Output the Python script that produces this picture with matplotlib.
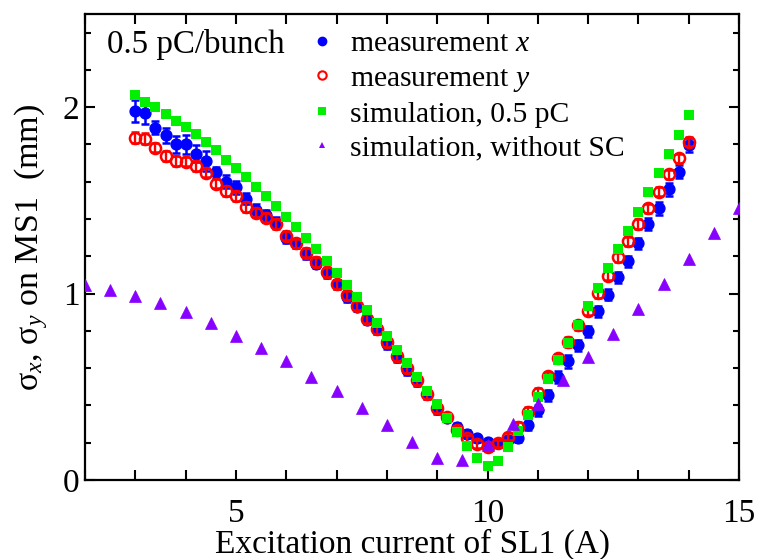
import matplotlib
matplotlib.use("Agg")
import matplotlib.pyplot as plt
from matplotlib.lines import Line2D
from matplotlib.ticker import MultipleLocator

plt.rcParams['font.family'] = ['Liberation Serif', 'DejaVu Serif']
plt.rcParams['mathtext.fontset'] = 'custom'
plt.rcParams['mathtext.rm'] = 'Liberation Serif'
plt.rcParams['mathtext.it'] = 'Liberation Serif:italic'

# excitation current of SL1 (A), measured / simulated at 0.2 A steps
current = [3.0, 3.2, 3.4, 3.6, 3.8, 4.0, 4.2, 4.4, 4.6, 4.8,
           5.0, 5.2, 5.4, 5.6, 5.8, 6.0, 6.2, 6.4, 6.6, 6.8,
           7.0, 7.2, 7.4, 7.6, 7.8, 8.0, 8.2, 8.4, 8.6, 8.8,
           9.0, 9.2, 9.4, 9.6, 9.8, 10.0, 10.2, 10.4, 10.6, 10.8,
           11.0, 11.2, 11.4, 11.6, 11.8, 12.0, 12.2, 12.4, 12.6, 12.8,
           13.0, 13.2, 13.4, 13.6, 13.8, 14.0]

sigma_x = [1.98, 1.97, 1.89, 1.85, 1.80, 1.80, 1.75, 1.71, 1.65, 1.60,
           1.57, 1.51, 1.45, 1.42, 1.38, 1.30, 1.27, 1.21, 1.16, 1.11,
           1.05, 0.98, 0.93, 0.86, 0.81, 0.73, 0.66, 0.59, 0.53, 0.46,
           0.38, 0.335, 0.285, 0.246, 0.223, 0.202, 0.196, 0.215, 0.228, 0.294,
           0.374, 0.455, 0.553, 0.638, 0.722, 0.798, 0.904, 0.995, 1.087, 1.173,
           1.269, 1.373, 1.458, 1.56, 1.654, 1.797]
sigma_x_err = [0.06, 0.06, 0.035, 0.04, 0.045, 0.05, 0.045, 0.055, 0.03, 0.035,
               0.035, 0.03, 0.03, 0.03, 0.03, 0.03, 0.025, 0.025, 0.025, 0.025,
               0.025, 0.025, 0.025, 0.025, 0.025, 0.025, 0.025, 0.025, 0.025, 0.025,
               0.025, 0.02, 0.02, 0.02, 0.02, 0.02, 0.02, 0.02, 0.025, 0.025,
               0.03, 0.03, 0.03, 0.035, 0.03, 0.03, 0.03, 0.03, 0.03, 0.03,
               0.03, 0.03, 0.035, 0.035, 0.035, 0.04]

sigma_y = [1.836, 1.832, 1.783, 1.738, 1.711, 1.708, 1.684, 1.649, 1.59, 1.551,
           1.524, 1.465, 1.435, 1.408, 1.373, 1.31, 1.27, 1.22, 1.17, 1.115,
           1.05, 0.99, 0.935, 0.865, 0.81, 0.74, 0.665, 0.60, 0.535, 0.46,
           0.385, 0.34, 0.27, 0.223, 0.193, 0.175, 0.196, 0.232, 0.285, 0.365,
           0.468, 0.556, 0.652, 0.74, 0.83, 0.909, 1.002, 1.096, 1.194, 1.28,
           1.373, 1.458, 1.547, 1.64, 1.726, 1.815]
sigma_y_err = [0.03, 0.03, 0.025, 0.025, 0.025, 0.025, 0.025, 0.025, 0.025, 0.025,
               0.025, 0.025, 0.025, 0.025, 0.025, 0.025, 0.025, 0.025, 0.025, 0.025,
               0.025, 0.025, 0.025, 0.025, 0.025, 0.025, 0.025, 0.025, 0.025, 0.025,
               0.025, 0.02, 0.02, 0.02, 0.02, 0.02, 0.02, 0.02, 0.025, 0.025,
               0.025, 0.025, 0.025, 0.025, 0.025, 0.025, 0.025, 0.025, 0.025, 0.025,
               0.025, 0.025, 0.025, 0.025, 0.025, 0.025]

sim_sc = [2.064, 2.03, 2.00, 1.966, 1.925, 1.895, 1.854, 1.813, 1.768, 1.717,
          1.672, 1.626, 1.572, 1.524, 1.469, 1.412, 1.357, 1.298, 1.237, 1.173,
          1.111, 1.046, 0.98, 0.914, 0.843, 0.772, 0.70, 0.63, 0.552, 0.478,
          0.406, 0.33, 0.257, 0.184, 0.118, 0.075, 0.103, 0.175, 0.262, 0.351,
          0.447, 0.544, 0.642, 0.735, 0.834, 0.935, 1.032, 1.135, 1.237, 1.335,
          1.44, 1.543, 1.647, 1.749, 1.852, 1.956]

# simulation without space charge, 0.5 A steps
current_nosc = [2.0, 2.5, 3.0, 3.5, 4.0, 4.5, 5.0, 5.5, 6.0, 6.5,
                7.0, 7.5, 8.0, 8.5, 9.0, 9.5, 10.0, 10.5, 11.0, 11.5,
                12.0, 12.5, 13.0, 13.5, 14.0, 14.5, 15.0]
sim_nosc = [1.048, 1.02, 0.985, 0.95, 0.90, 0.84, 0.775, 0.71, 0.64, 0.555,
            0.475, 0.385, 0.295, 0.205, 0.12, 0.11, 0.19, 0.30, 0.41, 0.535,
            0.66, 0.785, 0.92, 1.05, 1.185, 1.325, 1.46]

BLUE = "#0000ff"
RED = "#ff0000"
GREEN = "#00f000"
VIOLET = "#8800ff"

fig = plt.figure(figsize=(7.57, 5.59), dpi=100)
ax = fig.add_axes([0.1123, 0.1413, 0.864, 0.8337])

ax.errorbar(current, sigma_x, yerr=sigma_x_err, fmt="o", color=BLUE, ms=7.8,
            elinewidth=1.8, capsize=3, capthick=1.8, zorder=2)
ax.errorbar(current, sigma_y, yerr=sigma_y_err, fmt="o", color=RED, mfc="none",
            mec=RED, mew=1.8, ms=8, elinewidth=1.7, capsize=3, capthick=1.7, zorder=3)
ax.plot(current, sim_sc, "s", color=GREEN, ms=7.2, mew=0, zorder=4)
ax.plot(current_nosc, sim_nosc, "^", color=VIOLET, ms=8, mew=0.5, zorder=5)

ax.set_xlim(2, 15)
ax.set_ylim(0, 2.5)
ax.xaxis.set_major_locator(MultipleLocator(5))
ax.xaxis.set_minor_locator(MultipleLocator(1))
ax.yaxis.set_major_locator(MultipleLocator(1))
ax.yaxis.set_minor_locator(MultipleLocator(0.2))
ax.tick_params(which="both", direction="in", top=True, right=True, width=1.5,
               labelsize=24)
ax.tick_params(axis="x", which="both", length=7, pad=13)
ax.tick_params(axis="y", which="major", length=7, pad=4)
ax.tick_params(axis="y", which="minor", length=4)
for sp in ax.spines.values():
    sp.set_linewidth(1.6)

ax.set_xlabel("Excitation current of SL1 (A)", fontsize=24, labelpad=0)
ax.set_ylabel(r"σ$_x$, σ$_y$ on MS1  (mm)", fontsize=24.5, labelpad=9)

ax.text(0.033, 0.935, "0.5 pC/bunch", transform=ax.transAxes, fontsize=23.8,
        va="center", ha="left")

handles = [
    Line2D([], [], ls="none", marker="o", color=BLUE, ms=6),
    Line2D([], [], ls="none", marker="o", mfc="none", mec=RED, mew=1.5, ms=6),
    Line2D([], [], ls="none", marker="s", color=GREEN, ms=6, mew=0),
    Line2D([], [], ls="none", marker="^", color=VIOLET, ms=5, mew=0),
]
labels = [r"measurement $x$", r"measurement $y$",
          "simulation, 0.5 pC", "simulation, without SC"]
ax.legend(handles, labels, loc="upper left", bbox_to_anchor=(0.34, 0.964),
          frameon=False, fontsize=21.3, handlelength=1.0, handletextpad=0.45,
          labelspacing=0.25, borderpad=0, borderaxespad=0)

fig.savefig("out.png", dpi=100)
